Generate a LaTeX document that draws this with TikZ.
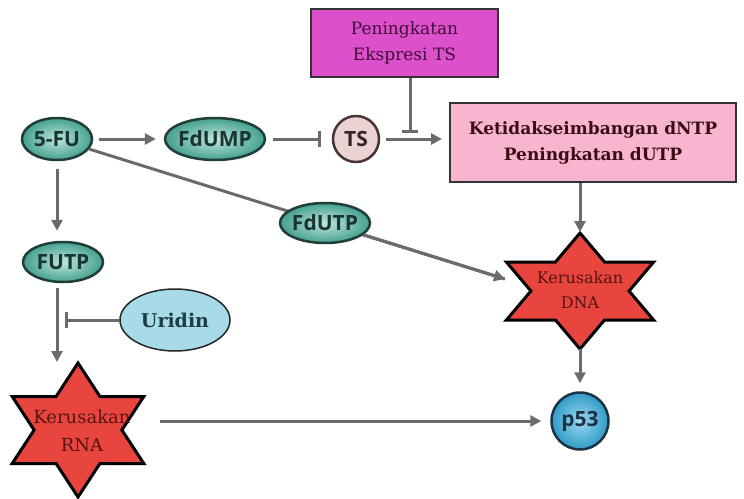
\documentclass[tikz,border=0pt]{standalone}
\usepackage{fontspec}
\setmainfont{DejaVu Serif}
\newfontfamily\lblsans{Open Sans}
\usetikzlibrary{shapes.geometric,arrows.meta}

\definecolor{arrowgray}{HTML}{6B6B6B}
\definecolor{tealout}{HTML}{45A08F}
\definecolor{tealin}{HTML}{BDE6DC}
\definecolor{tealline}{HTML}{1F3D39}
\definecolor{tealtext}{HTML}{1A3333}
\definecolor{tsfill}{HTML}{EBD2D3}
\definecolor{tsline}{HTML}{4A3333}
\definecolor{blueout}{HTML}{2F9BC7}
\definecolor{bluein}{HTML}{9BD9EE}
\definecolor{blueline}{HTML}{1B3344}
\definecolor{uridinfill}{HTML}{A7DBE7}
\definecolor{uridintext}{HTML}{1D3D47}
\definecolor{magentabox}{HTML}{DC50CB}
\definecolor{magentatext}{HTML}{420C38}
\definecolor{pinkbox}{HTML}{F8B5D0}
\definecolor{pinktext}{HTML}{3A0E14}
\definecolor{starred}{HTML}{E8453F}
\definecolor{startext}{HTML}{5A1212}

\tikzset{
  arr/.style={draw=arrowgray, line width=3pt, -{Triangle[length=11pt,width=11pt]}},
  inh/.style={draw=arrowgray, line width=3pt, -{Bar[width=16pt,line width=3pt]}},
  plainline/.style={draw=arrowgray, line width=3pt},
  tealell/.style={ellipse, draw=tealline, line width=2.5pt, inner color=tealin, outer color=tealout,
    inner xsep=-5pt, inner ysep=0pt, text=tealtext, font=\lblsans\bfseries\fontsize{21}{24}\selectfont},
  tscircle/.style={circle, draw=tsline, line width=2.5pt, fill=tsfill, inner sep=0pt,
    minimum size=46pt, text=tsline!70!black, font=\lblsans\bfseries\fontsize{21}{22}\selectfont},
  pcircle/.style={circle, draw=blueline, line width=2.5pt, inner color=bluein, outer color=blueout,
    inner sep=0pt, minimum size=57pt, text=blueline, font=\lblsans\bfseries\fontsize{21}{22}\selectfont},
  uridinell/.style={ellipse, draw=black!85, line width=1.5pt, fill=uridinfill, inner sep=0pt,
    text=uridintext, font=\bfseries\fontsize{19}{21}\selectfont},
  magbox/.style={rectangle, draw=black!80, line width=2pt, fill=magentabox, inner sep=0pt,
    text=magentatext, align=center, font=\fontsize{17}{26}\selectfont},
  pinkrect/.style={rectangle, draw=black!80, line width=2pt, fill=pinkbox, inner sep=0pt,
    text=pinktext, align=center, font=\bfseries\fontsize{17}{26}\selectfont},
  startxt/.style={text=startext, align=center},
  starshape/.style={fill=starred, draw=black, line width=3pt, line join=miter},
  hexstar/.pic={
    \filldraw[starshape] (90:1) -- (60:0.57735) -- (30:1) -- (0:0.57735) -- (-30:1)
      -- (-60:0.57735) -- (-90:1) -- (-120:0.57735) -- (-150:1) -- (180:0.57735)
      -- (150:1) -- (120:0.57735) -- cycle;
    \coordinate (-top) at (90:1);
    \coordinate (-bot) at (-90:1);
  }
}

\begin{document}
\begin{tikzpicture}[x=1pt,y=-1pt]
\useasboundingbox (0,0) rectangle (744,498);
\fill[white] (0,0) rectangle (744,498);

% boxes
\node[magbox, minimum width=187pt, minimum height=68pt] (topbox) at (404.5,43) {Peningkatan\\Ekspresi TS};
\node[pinkrect, minimum width=286pt, minimum height=79pt] (rbox) at (593,142.5) {Ketidakseimbangan dNTP\\Peningkatan dUTP};

% damage stars
\begin{scope}[shift={(580,291)}, x=85pt, y=58pt]
  \pic (dna) {hexstar};
\end{scope}
\begin{scope}[shift={(78,430)}, x=76pt, y=67pt]
  \pic (rna) {hexstar};
\end{scope}
\node[startxt, font=\fontsize{16}{25}\selectfont] (dnatxt) at (580,290) {Kerusakan\\DNA};
\node[startxt, font=\fontsize{18}{28}\selectfont] (rnatxt) at (82,431) {Kerusakan\\RNA};

% metabolites
\node[tealell, minimum width=70pt, minimum height=42pt] (fu) at (57,139) {5-FU};
\node[tealell, minimum width=100pt, minimum height=42pt] (fdump) at (215,139) {FdUMP};
\node[tscircle] (ts) at (356,139) {TS};
\node[tealell, minimum width=80pt, minimum height=40pt] (futp) at (63,262) {FUTP};
\node[uridinell, minimum width=110pt, minimum height=62pt] (uridin) at (175,320) {Uridin};
\node[pcircle] (p53) at (580,421) {p53};

% free ends of connectors
\coordinate (dnain) at (505,279);
\coordinate (tsbar) at (410,133);
\coordinate (rnain) at (57,362);
\coordinate (ubar) at (65,320);
\coordinate (rnaout) at (160,421);

% diagonal line through FdUTP
\draw[plainline] (fu) -- (dnain);
\node[tealell, minimum width=90pt, minimum height=40pt] (fdutp) at (325,223) {FdUTP};
\draw[arr] (fdutp) -- (dnain);

% connectors
\draw[arr, shorten <=6pt, shorten >=8pt] (fu) -- (fdump);
\draw[inh, shorten <=7pt, shorten >=11pt] (fdump) -- (ts);
\draw[arr, shorten <=6pt, shorten >=7pt] (ts) -- (rbox.west |- ts);
\draw[inh] (topbox.south -| tsbar) -- (tsbar);
\draw[arr, shorten >=1pt] (rbox.south -| dna-top) -- (dna-top);
\draw[arr, shorten <=8pt, shorten >=10pt] (fu.south) -- (fu.south |- futp.north);
\draw[arr, shorten <=5pt] (futp.south -| rnain) -- (rnain);
\draw[inh] (uridin.west) -- (ubar);
\draw[arr, shorten >=9pt] (rnaout) -- (p53);
\draw[arr, shorten >=8pt] (dna-bot) -- (p53.north);

\end{tikzpicture}
\end{document}
